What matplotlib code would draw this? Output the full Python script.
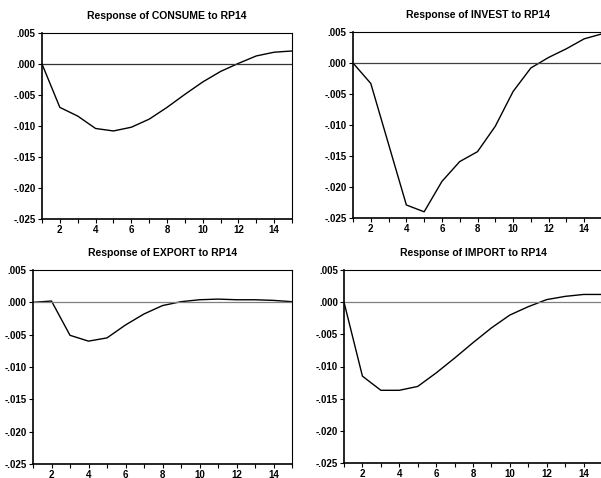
import matplotlib
matplotlib.use("Agg")
import matplotlib.pyplot as plt

# periods and impulse responses
periods = list(range(1, 16))
consume = [0.0, -0.0070, -0.0084, -0.0104, -0.0108, -0.0102, -0.0089, -0.0070,
           -0.0049, -0.0029, -0.0012, 0.0001, 0.0013, 0.0019, 0.0021]
invest = [0.0, -0.0033, -0.0131, -0.0229, -0.0240, -0.0191, -0.0159, -0.0143,
          -0.0102, -0.0046, -0.0008, 0.0009, 0.0023, 0.0039, 0.0047]
export = [0.0, 0.0002, -0.0051, -0.0060, -0.0055, -0.0035, -0.0018, -0.0005,
          0.0001, 0.0004, 0.0005, 0.0004, 0.0004, 0.0003, 0.0001]
imports = [0.0, -0.0115, -0.0137, -0.0137, -0.0131, -0.0110, -0.0087, -0.0063,
           -0.0040, -0.0020, -0.0007, 0.0004, 0.0009, 0.0012, 0.0012]

titles = ["Response of CONSUME to RP14", "Response of INVEST to RP14",
          "Response of EXPORT to RP14", "Response of IMPORT to RP14"]
series = [consume, invest, export, imports]

y_ticks = [0.005, 0.0, -0.005, -0.010, -0.015, -0.020, -0.025]
y_labels = [".005", ".000", "-.005", "-.010", "-.015", "-.020", "-.025"]
x_labels = [2, 4, 6, 8, 10, 12, 14]

plt.rcParams["font.family"] = ["Liberation Sans", "DejaVu Sans"]
plt.rcParams["font.weight"] = "bold"

W, H = 601, 478
fig = plt.figure(figsize=(W / 100, H / 100), dpi=100)

# axes boxes in pixels: left, top, right, bottom
boxes = [(42, 33, 292, 219), (353, 32, 602, 218),
         (33, 270, 292, 464), (344, 270, 602, 463)]
zero_colors = ["0.2", "0.25", "0.5", "0.5"]

for box, title, vals, zc in zip(boxes, titles, series, zero_colors):
    l, t, r, b = box
    ax = fig.add_axes([l / W, 1 - b / H, (r - l) / W, (b - t) / H])
    ax.plot(periods, vals, color="black", lw=1.0)
    ax.axhline(0, color=zc, lw=0.9)
    ax.set_xlim(1, 15)
    ax.set_ylim(-0.025, 0.005)
    ax.set_yticks(y_ticks)
    ax.set_yticklabels(y_labels)
    ax.set_xticks(periods, minor=True)
    ax.set_xticks(x_labels)
    ax.tick_params(which="both", direction="out", length=3, width=0.8,
                   labelsize=7, pad=1.5)
    for lab in ax.get_xticklabels() + ax.get_yticklabels():
        lab.set_fontweight("bold")
    for sp in ax.spines.values():
        sp.set_linewidth(0.8)
    ax.spines["left"].set_linewidth(1.2)
    ax.spines["bottom"].set_linewidth(1.2)
    ax.set_title(title, fontsize=7.5, fontweight="bold", pad=10)

fig.savefig("out.png", dpi=100)
